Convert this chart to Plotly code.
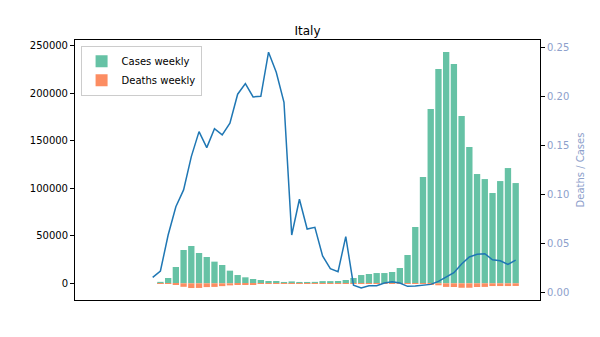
import plotly.graph_objects as go

weeks = list(range(48))
cases_weekly = [0, 1500, 5600, 17200, 35100, 39300, 31900, 27700, 22800, 19300,
                13300, 8700, 6300, 4500, 3500, 2400, 2400, 1400, 2000, 1400,
                1400, 1500, 2300, 2300, 2400, 3500, 5600, 8700, 9800, 10800,
                10800, 11900, 16100, 29800, 59300, 112000, 183600, 225700, 243600, 231000,
                176200, 143600, 115100, 109800, 95100, 107700, 121400, 105600]
deaths_weekly = [0, 30, 300, 1100, 3700, 5000, 4900, 4000, 3800, 3000,
                 2200, 1700, 1100, 900, 700, 500, 450, 300, 250, 150,
                 100, 100, 90, 60, 50, 60, 50, 60, 70, 100,
                 120, 130, 110, 150, 300, 700, 1300, 2100, 3800, 3900,
                 4700, 4700, 3900, 3800, 2900, 2900, 2900, 2800]
ratio = [0.0157, 0.0221, 0.0588, 0.0876, 0.1047, 0.1386, 0.1641, 0.1478, 0.1671, 0.1607,
         0.1726, 0.2022, 0.2130, 0.1994, 0.2001, 0.2450, 0.2246, 0.1940, 0.0588, 0.0952,
         0.0649, 0.0666, 0.0374, 0.0245, 0.0214, 0.0571, 0.0078, 0.0048, 0.0071, 0.0071,
         0.0099, 0.0112, 0.0099, 0.0065, 0.0068, 0.0075, 0.0085, 0.0116, 0.0163, 0.0204,
         0.0292, 0.0364, 0.0391, 0.0398, 0.0336, 0.0326, 0.0289, 0.0333]
left_ticks = [0, 50000, 100000, 150000, 200000, 250000]
right_ticks = [0.0, 0.05, 0.10, 0.15, 0.20, 0.25]
right_labels = ["0.00", "0.05", "0.10", "0.15", "0.20", "0.25"]

FONT = "DejaVu Sans"
fig = go.Figure()
fig.add_trace(go.Bar(x=weeks, y=cases_weekly, name="Cases weekly",
                     marker=dict(color="#66c2a5", line=dict(width=0)), width=0.82))
fig.add_trace(go.Bar(x=weeks, y=[-d for d in deaths_weekly], name="Deaths weekly",
                     marker=dict(color="#fc8d62", line=dict(width=0)), width=0.82))
fig.add_trace(go.Scatter(x=weeks, y=ratio, yaxis="y2", mode="lines",
                         line=dict(color="#1f77b4", width=1.5), showlegend=False))

fig.update_layout(
    width=600, height=337,
    margin=dict(l=75, r=60, t=40, b=37),
    paper_bgcolor="white", plot_bgcolor="white",
    barmode="overlay",
    font=dict(family=FONT, size=10, color="black"),
    title=dict(text="Italy", x=0.5125, xanchor="center", y=0.91, yanchor="middle",
               font=dict(family=FONT, size=12, color="black")),
    xaxis=dict(range=[-10.06, 50.15], showticklabels=False, ticks="",
               showgrid=False, zeroline=False, showline=True, linecolor="black",
               linewidth=1, mirror=True),
    yaxis=dict(range=[-17600, 256300], tickvals=left_ticks,
               ticktext=[str(v) for v in left_ticks], ticks="outside", ticklen=4,
               tickcolor="black", showgrid=False, zeroline=False, showline=True,
               linecolor="black", linewidth=1, mirror=True),
    yaxis2=dict(range=[-0.0074, 0.2574], overlaying="y", side="right",
                tickvals=right_ticks, ticktext=right_labels, ticks="outside",
                ticklen=4, tickcolor="black", showgrid=False, zeroline=False,
                tickfont=dict(color="#8da0cb", size=10),
                title=dict(text="Deaths / Cases", font=dict(color="#8da0cb", size=10),
                           standoff=8)),
    legend=dict(x=0.012, y=0.978, xanchor="left", yanchor="top",
                bgcolor="white", bordercolor="#cccccc", borderwidth=1,
                font=dict(family=FONT, size=10), tracegroupgap=0),
    showlegend=True,
)
fig.write_html("out.html")
